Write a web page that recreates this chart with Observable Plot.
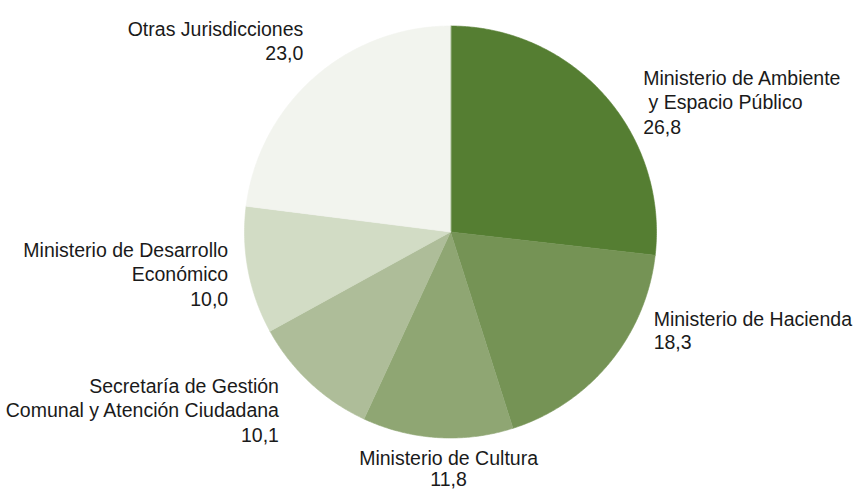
<!DOCTYPE html>
<html>
<head>
<meta charset="utf-8">
<script src="https://cdn.jsdelivr.net/npm/d3@7"></script>
<script src="https://cdn.jsdelivr.net/npm/@observablehq/plot@0.6"></script>
<style>
  html, body { margin: 0; padding: 0; background: #ffffff; }
  #chart svg { display: block; }
</style>
</head>
<body>
<div id="chart"></div>
<script>
// ---- data ----
const categories = [
  "Ministerio de Ambiente\n\u00a0y Espacio Público",
  "Ministerio de Hacienda",
  "Ministerio de Cultura",
  "Secretaría de Gestión\nComunal y Atención Ciudadana",
  "Ministerio de Desarrollo\nEconómico",
  "Otras Jurisdicciones"
];
const values = [26.8, 18.3, 11.8, 10.1, 10.0, 23.0];
const colors = ["#557e32", "#759355", "#8fa673", "#aebd99", "#d2dcc5", "#f2f4ee"];

// ---- layout (styles only) ----
const R = 206;                 // pie radius in scale units (1 unit = 1 px)
const labelStyle = [           // text anchoring and pixel nudges from the slice's outer mid-point
  {anchor: "start",  dx: 39,  dy: -27, lh: 1.25},
  {anchor: "start",  dx: 44,  dy: -54, lh: 1.22},
  {anchor: "middle", dx: 11,  dy: 12,  lh: 1.1},
  {anchor: "end",    dx: -31, dy: -7,  lh: 1.25},
  {anchor: "end",    dx: -20, dy: -31, lh: 1.25},
  {anchor: "end",    dx: -11, dy: -59, lh: 1.25}
];

const total = d3.sum(values);
const fmt = v => v.toFixed(1).replace(".", ",");

// Build slice polygons (angles clockwise from 12 o'clock)
const slicePts = [];
const labels = [];
let cum = 0;
categories.forEach((name, i) => {
  const a0 = cum / total * 2 * Math.PI;
  cum += values[i];
  const a1 = cum / total * 2 * Math.PI;
  slicePts.push({name, x: 0, y: 0});
  const n = Math.max(2, Math.ceil((a1 - a0) / (Math.PI / 360)));
  for (let k = 0; k <= n; k++) {
    const a = a0 + (a1 - a0) * k / n;
    slicePts.push({name, x: R * Math.sin(a), y: R * Math.cos(a)});
  }
  const am = (a0 + a1) / 2;
  labels.push({
    name,
    text: name + "\n" + fmt(values[i]),
    x: R * Math.sin(am),
    y: R * Math.cos(am),
    ...labelStyle[i]
  });
});

const textMarks = labels.map(l => Plot.text([l], {
  x: "x", y: "y", text: "text",
  textAnchor: l.anchor, lineAnchor: "top",
  dx: l.dx, dy: l.dy,
  fill: "#1a1a1a", fontSize: 19.5, lineHeight: l.lh
}));

const chart = Plot.plot({
  width: 856,
  height: 491,
  margin: 0,
  style: {fontFamily: "'Liberation Sans', Arial, sans-serif", background: "#ffffff"},
  x: {axis: null, domain: [-450, 406]},
  y: {axis: null, domain: [-259.5, 231.5]},
  color: {domain: categories, range: colors},
  marks: [
    Plot.line(slicePts, {x: "x", y: "y", z: "name", fill: "name", stroke: "name", strokeWidth: 0.6, curve: "linear-closed"}),
    ...textMarks
  ]
});
document.getElementById("chart").appendChild(chart);
</script>
</body>
</html>
